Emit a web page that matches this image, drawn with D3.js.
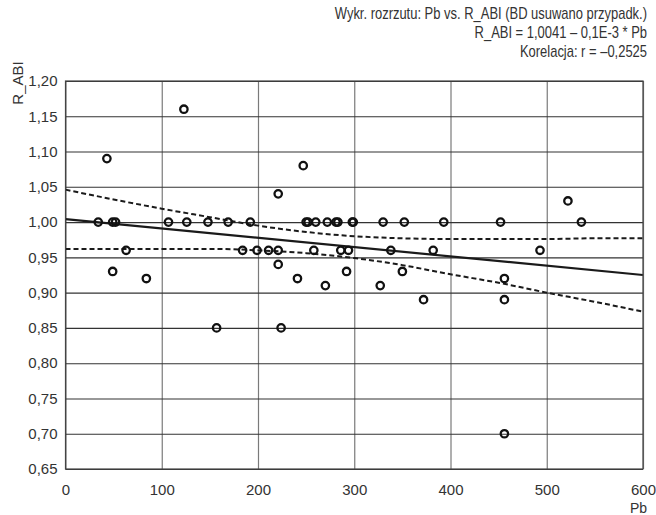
<!DOCTYPE html>
<html>
<head>
<meta charset="utf-8">
<script src="https://cdn.jsdelivr.net/npm/d3@7/dist/d3.min.js"></script>
<style>
  body { margin: 0; background: #fff; }
  svg text { font-family: "Liberation Sans", Arial, sans-serif; fill: #333; }
</style>
</head>
<body>
<div id="chart"></div>
<script>
// scatter points
var pb = [
  34, 49, 52, 43, 63, 49, 84,
  107, 123, 126, 148, 157, 169, 184, 192, 199, 211, 221, 221, 221, 224,
  241, 247, 250, 252, 258, 260, 270, 272, 281, 283, 286, 292, 294, 298, 299,
  327, 330, 338, 350, 352, 372, 382, 393,
  452, 456, 456, 456, 493, 522, 536
];
var rAbi = [
  1.00, 1.00, 1.00, 1.09, 0.96, 0.93, 0.92,
  1.00, 1.16, 1.00, 1.00, 0.85, 1.00, 0.96, 1.00, 0.96, 0.96, 0.96, 1.04, 0.94, 0.85,
  0.92, 1.08, 1.00, 1.00, 0.96, 1.00, 0.91, 1.00, 1.00, 1.00, 0.96, 0.93, 0.96, 1.00, 1.00,
  0.91, 1.00, 0.96, 0.93, 1.00, 0.89, 0.96, 1.00,
  1.00, 0.92, 0.89, 0.70, 0.96, 1.03, 1.00
];

// regression line and 95% bands
var fitX = [ 0, 600 ];
var fitY = [ 1.0041, 0.925 ];
var bandX = [ 0, 50, 100, 150, 200, 250, 300, 350, 400, 450, 500, 550, 600 ];
var bandUpper = [ 1.046, 1.032, 1.019, 1.007, 0.995, 0.986, 0.980, 0.977, 0.976, 0.976, 0.976, 0.977, 0.977 ];
var bandLower = [ 0.962, 0.962, 0.962, 0.962, 0.960, 0.956, 0.949, 0.939, 0.926, 0.914, 0.900, 0.887, 0.873 ];

var xTicks = [ 0, 100, 200, 300, 400, 500, 600 ];
var yTicks = [ 0.65, 0.70, 0.75, 0.80, 0.85, 0.90, 0.95, 1.00, 1.05, 1.10, 1.15, 1.20 ];

var titleLines = [
  'Wykr. rozrzutu: Pb vs. R_ABI (BD usuwano przypadk.)',
  'R_ABI = 1,0041 \u2013 0,1E-3  * Pb',
  'Korelacja: r = \u20130,2525'
];

var width  = 656,
    height = 515,
    margin = { top: 81, right: 13, bottom: 46, left: 65.5 },
    plotW  = width - margin.left - margin.right,
    plotH  = height - margin.top - margin.bottom,

    fmt = function( v ) {
      return d3.format( '.2f' )( v ).replace( '.', ',' );
    },

    x = d3.scaleLinear().domain( [ 0, 600 ] ).range( [ 0, plotW ] ),
    y = d3.scaleLinear().domain( [ 0.65, 1.20 ] ).range( [ plotH, 0 ] ),

    svg,
    g;

svg = d3.select( '#chart' ).append( 'svg' )
        .attr( 'width', width )
        .attr( 'height', height );

// title block, right aligned, squeezed to look condensed
svg.append( 'g' )
   .selectAll( 'text' )
   .data( titleLines )
   .enter().append( 'text' )
   .attr( 'transform', function( d, i ) {
     return 'translate(647,' + ( 19 + i * 19 ) + ') scale(0.81,1)';
   } )
   .attr( 'text-anchor', 'end' )
   .style( 'font-size', '16px' )
   .text( function( d ) { return d; } );

g = svg.append( 'g' )
       .attr( 'transform', 'translate(' + margin.left + ',' + margin.top + ')' );

// grid
g.append( 'g' )
  .attr( 'class', 'grid-x' )
  .call( d3.axisBottom( x ).tickValues( xTicks ).tickSize( -plotH ).tickFormat( '' ) )
  .attr( 'transform', 'translate(0,' + plotH + ')' )
  .call( function( s ) {
    s.select( '.domain' ).remove();
    s.selectAll( 'line' ).attr( 'stroke', '#7a7a7a' ).attr( 'stroke-width', 1.2 );
  } );

g.append( 'g' )
  .attr( 'class', 'grid-y' )
  .call( d3.axisLeft( y ).tickValues( yTicks ).tickSize( -plotW ).tickFormat( '' ) )
  .call( function( s ) {
    s.select( '.domain' ).remove();
    s.selectAll( 'line' ).attr( 'stroke', '#333' ).attr( 'stroke-width', 1.1 );
  } );

// bands
var bandLine = d3.line()
                 .x( function( d ) { return x( d[ 0 ] ); } )
                 .y( function( d ) { return y( d[ 1 ] ); } )
                 .curve( d3.curveMonotoneX );

[ bandUpper, bandLower ].forEach( function( band ) {
  g.append( 'path' )
    .datum( bandX.map( function( v, i ) { return [ v, band[ i ] ]; } ) )
    .attr( 'd', bandLine )
    .attr( 'fill', 'none' )
    .attr( 'stroke', '#1a1a1a' )
    .attr( 'stroke-width', 2 )
    .attr( 'stroke-dasharray', '5,3' );
} );

// regression line
g.append( 'path' )
  .datum( fitX.map( function( v, i ) { return [ v, fitY[ i ] ]; } ) )
  .attr( 'd', bandLine.curve( d3.curveLinear ) )
  .attr( 'fill', 'none' )
  .attr( 'stroke', '#1a1a1a' )
  .attr( 'stroke-width', 2.2 );

// points
g.append( 'g' )
  .selectAll( 'circle' )
  .data( pb )
  .enter().append( 'circle' )
  .attr( 'cx', function( d ) { return x( d ); } )
  .attr( 'cy', function( d, i ) { return y( rAbi[ i ] ); } )
  .attr( 'r', 3.7 )
  .attr( 'fill', 'none' )
  .attr( 'stroke', '#111' )
  .attr( 'stroke-width', 2.3 );

// frame
g.append( 'rect' )
  .attr( 'width', plotW )
  .attr( 'height', plotH )
  .attr( 'fill', 'none' )
  .attr( 'stroke', '#444' )
  .attr( 'stroke-width', 1.2 );

// axes labels
var xAxis = g.append( 'g' )
             .attr( 'transform', 'translate(0,' + plotH + ')' )
             .call( d3.axisBottom( x ).tickValues( xTicks ).tickSize( 0 ).tickPadding( 15 ) );
xAxis.select( '.domain' ).remove();
xAxis.selectAll( 'text' ).style( 'font-size', '15px' ).attr( 'fill', '#333' );

var yAxis = g.append( 'g' )
             .call( d3.axisLeft( y ).tickValues( yTicks ).tickSize( 0 ).tickPadding( 8 ).tickFormat( fmt ) );
yAxis.select( '.domain' ).remove();
yAxis.selectAll( 'text' ).style( 'font-size', '15px' ).attr( 'fill', '#333' );

svg.append( 'text' )
   .attr( 'x', 647 )
   .attr( 'y', 513 )
   .attr( 'text-anchor', 'end' )
   .style( 'font-size', '14px' )
   .text( 'Pb' );

svg.append( 'text' )
   .attr( 'transform', 'translate(23,83) rotate(-90)' )
   .attr( 'text-anchor', 'middle' )
   .style( 'font-size', '15px' )
   .text( 'R_ABI' );
</script>
</body>
</html>
